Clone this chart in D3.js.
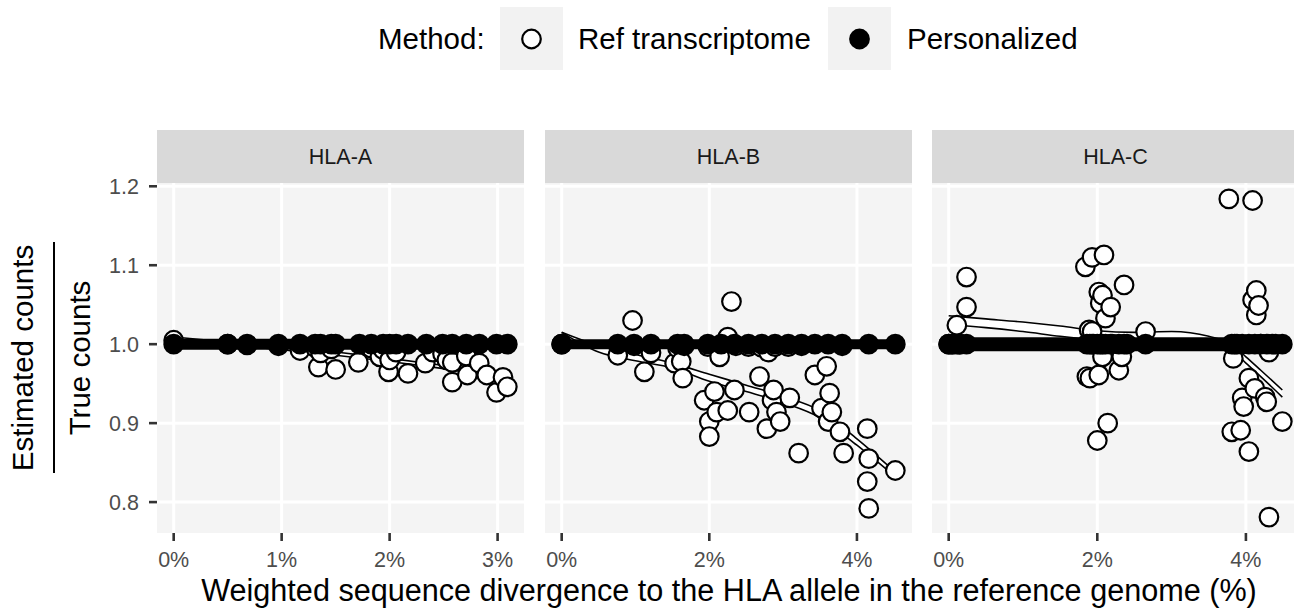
<!DOCTYPE html>
<html>
<head>
<meta charset="utf-8">
<script src="https://cdn.jsdelivr.net/npm/d3@7"></script>
<style>
  body { margin: 0; background: #fff; }
  svg text { font-family: "Liberation Sans", Arial, sans-serif; }
</style>
</head>
<body>
<div id="chart"></div>
<script>
// ---- data (divergence %, estimated / true counts) ----
const genes = ["HLA-A", "HLA-B", "HLA-C"];
const methods = ["Ref transcriptome", "Personalized"];

const refA = [[0.00,1.005],[0.50,1.000],[0.68,0.999],[0.97,0.998],[1.17,0.992],[1.31,0.996],[1.34,0.971],
  [1.36,0.989],[1.46,0.994],[1.50,0.968],[1.71,0.977],[1.83,0.995],[1.91,0.984],[1.94,0.993],[1.99,0.965],
  [2.00,0.980],[2.06,0.990],[2.17,0.963],[2.33,0.976],[2.40,0.990],[2.49,0.988],[2.53,0.980],[2.58,0.977],
  [2.58,0.952],[2.71,0.985],[2.72,0.961],[2.83,0.976],[2.90,0.961],[2.99,0.939],[3.05,0.958],[3.09,0.946]];
const refB = [[0.00,1.000],[0.76,0.986],[0.96,1.030],[0.98,0.998],[1.12,0.965],[1.21,0.989],[1.53,0.976],
  [1.57,0.995],[1.62,0.978],[1.64,0.957],[1.66,0.998],[1.93,0.929],[1.98,0.997],[2.00,0.902],[2.00,0.883],
  [2.07,0.940],[2.10,0.914],[2.14,0.984],[2.25,1.009],[2.25,0.916],[2.30,1.054],[2.34,0.942],[2.36,0.998],
  [2.53,0.997],[2.54,0.914],[2.68,0.959],[2.71,0.996],[2.78,0.893],[2.80,0.990],[2.85,0.929],[2.87,0.942],
  [2.89,0.997],[2.91,0.914],[2.96,0.902],[3.07,0.997],[3.09,0.932],[3.21,0.862],[3.25,0.998],[3.43,0.961],
  [3.52,0.919],[3.59,0.972],[3.61,0.902],[3.63,0.938],[3.66,0.914],[3.77,0.889],[3.80,0.998],[3.82,0.862],
  [4.14,0.893],[4.16,0.855],[4.14,0.826],[4.16,0.792],[4.52,0.840]];
const refC = [[0.00,1.000],[0.05,1.000],[0.11,1.024],[0.15,1.000],[0.24,1.085],[0.24,1.047],[1.84,1.098],
  [1.86,0.959],[1.89,1.018],[1.90,0.957],[1.93,1.110],[1.93,1.016],[1.95,1.000],[2.00,0.878],[2.02,1.066],
  [2.02,0.961],[2.04,1.052],[2.07,1.062],[2.07,0.984],[2.09,1.113],[2.11,1.033],[2.14,0.900],[2.18,1.047],
  [2.20,1.000],[2.29,0.967],[2.33,0.984],[2.36,1.075],[2.40,1.000],[2.65,1.016],[3.77,1.184],[3.81,0.889],
  [3.83,0.982],[3.85,1.000],[3.93,0.891],[3.95,0.932],[3.97,0.921],[4.04,0.957],[4.04,0.864],[4.09,1.182],
  [4.09,1.056],[4.12,0.944],[4.14,1.068],[4.14,1.037],[4.17,1.049],[4.20,1.000],[4.26,0.933],[4.28,0.927],
  [4.31,0.990],[4.31,0.781],[4.40,1.000],[4.49,0.902]];

const persA = [[0.00,1],[0.50,1],[0.68,1],[0.97,1],[1.17,1],[1.31,1],[1.36,1],[1.46,1],[1.50,1],[1.72,1],
  [1.83,1],[1.94,1],[2.00,1],[2.06,1],[2.17,1],[2.34,1],[2.49,1],[2.58,1],[2.71,1],[2.83,1],[2.99,1],[3.09,1]];
const persB = [[0.00,1],[0.76,1],[0.98,1],[1.21,1],[1.57,1],[1.66,1],[1.98,1],[2.16,1],[2.34,1],[2.53,1],
  [2.71,1],[2.89,1],[3.07,1],[3.25,1],[3.43,1],[3.61,1],[3.80,1],[4.16,1],[4.52,1]];
const persC = [[0.00,1],[0.05,1],[0.11,1],[0.15,1],[0.24,1],[1.86,1],[1.90,1],[1.93,1],[2.00,1],[2.04,1],
  [2.07,1],[2.11,1],[2.18,1],[2.29,1],[2.36,1],[2.65,1],[3.81,1],[3.88,1],[3.95,1],[4.04,1],[4.12,1],
  [4.20,1],[4.28,1],[4.36,1],[4.49,1]];

// smooth fits of the ref transcriptome method (upper / lower curve)
const smoothXA  = [0, 0.5, 1, 1.5, 2, 2.5, 3.09];
const smoothHiA = [1.009, 1.003, 0.997, 0.990, 0.982, 0.973, 0.962];
const smoothLoA = [1.004, 0.999, 0.993, 0.986, 0.978, 0.969, 0.957];
const smoothXB  = [0, 0.5, 1, 1.5, 2, 2.5, 3, 3.5, 4, 4.52];
const smoothHiB = [1.015, 0.998, 0.987, 0.976, 0.962, 0.948, 0.934, 0.916, 0.880, 0.838];
const smoothLoB = [1.015, 0.990, 0.979, 0.970, 0.953, 0.940, 0.926, 0.907, 0.872, 0.832];
const smoothXC  = [0, 0.5, 1, 1.5, 2, 2.5, 3, 3.5, 3.8, 4.0, 4.2, 4.49];
const smoothHiC = [1.036, 1.032, 1.028, 1.023, 1.017, 1.015, 1.016, 1.010, 1.000, 0.984, 0.967, 0.942];
const smoothLoC = [1.025, 1.021, 1.016, 1.010, 1.005, 1.001, 1.000, 0.998, 0.993, 0.976, 0.959, 0.933];

const xTicksA = [0, 1, 2, 3];
const xTicksB = [0, 2, 4];
const xTicksC = [0, 2, 4];
const yTicks = [0.8, 0.9, 1.0, 1.1, 1.2];

const facets = [
  { gene: genes[0], ref: refA, pers: persA, sx: smoothXA, hi: smoothHiA, lo: smoothLoA, ticks: xTicksA, band: 11 },
  { gene: genes[1], ref: refB, pers: persB, sx: smoothXB, hi: smoothHiB, lo: smoothLoB, ticks: xTicksB, band: 10 },
  { gene: genes[2], ref: refC, pers: persC, sx: smoothXC, hi: smoothHiC, lo: smoothLoC, ticks: xTicksC, band: 14 }
];

// ---- layout ----
const width = 1294, height = 609;
const panelTop = 183, panelBottom = 533;
const stripTop = 130;
const panelLeft = [157, 545, 932];
const panelWidth = 367;
const ptR = 9.3;

const svg = d3.select("#chart").append("svg")
  .attr("width", width)
  .attr("height", height);

// ggplot-like 5% expansion
function expand(ext) {
  const d = (ext[1] - ext[0]) * 0.05;
  return [ext[0] - d, ext[1] + d];
}

const allY = facets.flatMap(f => f.ref.concat(f.pers).map(d => d[1]));
const y = d3.scaleLinear()
  .domain(expand(d3.extent(allY)))
  .range([panelBottom, panelTop]);

const defs = svg.append("defs");

facets.forEach((f, i) => {
  const left = panelLeft[i];
  const allX = f.ref.concat(f.pers).map(d => d[0]);
  const x = d3.scaleLinear()
    .domain(expand(d3.extent(allX)))
    .range([left, left + panelWidth]);

  const g = svg.append("g");

  // strip
  g.append("rect")
    .attr("x", left).attr("y", stripTop)
    .attr("width", panelWidth).attr("height", panelTop - stripTop)
    .attr("fill", "#D9D9D9");
  g.append("text")
    .attr("x", left + panelWidth / 2).attr("y", 164)
    .attr("text-anchor", "middle")
    .attr("font-size", 21.5)
    .attr("fill", "#1A1A1A")
    .text(f.gene);

  // panel
  g.append("rect")
    .attr("x", left).attr("y", panelTop)
    .attr("width", panelWidth).attr("height", panelBottom - panelTop)
    .attr("fill", "#F4F4F4");

  defs.append("clipPath").attr("id", "clip" + i)
    .append("rect")
    .attr("x", left).attr("y", panelTop)
    .attr("width", panelWidth).attr("height", panelBottom - panelTop);

  const inner = g.append("g").attr("clip-path", `url(#clip${i})`);

  // grid
  inner.selectAll(".gy").data(yTicks).join("line")
    .attr("x1", left).attr("x2", left + panelWidth)
    .attr("y1", d => y(d)).attr("y2", d => y(d))
    .attr("stroke", "#fff").attr("stroke-width", 3);
  inner.selectAll(".gx").data(f.ticks).join("line")
    .attr("x1", d => x(d)).attr("x2", d => x(d))
    .attr("y1", panelTop).attr("y2", panelBottom)
    .attr("stroke", "#fff").attr("stroke-width", 3);

  // ref smooth ribbon
  const sm = f.sx.map((v, k) => ({ x: v, hi: f.hi[k], lo: f.lo[k] }));
  inner.append("path")
    .datum(sm)
    .attr("d", d3.area().curve(d3.curveMonotoneX)
      .x(d => x(d.x)).y0(d => y(d.lo)).y1(d => y(d.hi)))
    .attr("fill", "#fff");
  ["hi", "lo"].forEach(k => {
    inner.append("path")
      .datum(sm)
      .attr("d", d3.line().curve(d3.curveMonotoneX).x(d => x(d.x)).y(d => y(d[k])))
      .attr("fill", "none")
      .attr("stroke", "#000")
      .attr("stroke-width", 1.6);
  });

  // ref points
  inner.selectAll(".ref").data(f.ref).join("circle")
    .attr("cx", d => x(d[0])).attr("cy", d => y(d[1]))
    .attr("r", ptR)
    .attr("fill", "#fff")
    .attr("stroke", "#000")
    .attr("stroke-width", 2.2);

  // personalized smooth (flat at 1) and points
  inner.append("path")
    .datum(f.pers)
    .attr("d", d3.line().x(d => x(d[0])).y(d => y(d[1])))
    .attr("fill", "none")
    .attr("stroke", "#000")
    .attr("stroke-width", f.band);
  inner.selectAll(".pers").data(f.pers).join("circle")
    .attr("cx", d => x(d[0])).attr("cy", d => y(d[1]))
    .attr("r", ptR)
    .attr("fill", "#000")
    .attr("stroke", "#000")
    .attr("stroke-width", 2.2);

  // x axis
  const xa = g.append("g");
  xa.selectAll("line").data(f.ticks).join("line")
    .attr("x1", d => x(d)).attr("x2", d => x(d))
    .attr("y1", panelBottom).attr("y2", panelBottom + 8)
    .attr("stroke", "#333").attr("stroke-width", 2.6);
  xa.selectAll("text").data(f.ticks).join("text")
    .attr("x", d => x(d)).attr("y", 567)
    .attr("text-anchor", "middle")
    .attr("font-size", 21.5)
    .attr("fill", "#4D4D4D")
    .text(d => d + "%");

  // y axis on the first panel only
  if (i === 0) {
    const ya = g.append("g");
    ya.selectAll("line").data(yTicks).join("line")
      .attr("x1", left - 8).attr("x2", left)
      .attr("y1", d => y(d)).attr("y2", d => y(d))
      .attr("stroke", "#333").attr("stroke-width", 2.6);
    ya.selectAll("text").data(yTicks).join("text")
      .attr("x", left - 18).attr("y", d => y(d) + 7.8)
      .attr("text-anchor", "end")
      .attr("font-size", 21.5)
      .attr("fill", "#4D4D4D")
      .text(d => d3.format(".1f")(d));
  }
});

// x axis title
svg.append("text")
  .attr("x", 729).attr("y", 601)
  .attr("text-anchor", "middle")
  .attr("font-size", 30.6)
  .attr("fill", "#000")
  .text("Weighted sequence divergence to the HLA allele in the reference genome (%)");

// y axis title as a fraction
const yMid = (panelTop + panelBottom) / 2;
svg.append("text")
  .attr("transform", `translate(33,${yMid}) rotate(-90)`)
  .attr("text-anchor", "middle")
  .attr("font-size", 29.5)
  .text("Estimated counts");
svg.append("text")
  .attr("transform", `translate(90,${yMid}) rotate(-90)`)
  .attr("text-anchor", "middle")
  .attr("font-size", 29.5)
  .text("True counts");
svg.append("line")
  .attr("x1", 54).attr("x2", 54)
  .attr("y1", 242).attr("y2", 473)
  .attr("stroke", "#000").attr("stroke-width", 2);

// legend
const legend = svg.append("g");
legend.append("text")
  .attr("x", 378).attr("y", 49)
  .attr("font-size", 29.5)
  .text("Method:");
const keyX = [500, 828];
const labelX = [578, 907];
methods.forEach((m, k) => {
  legend.append("rect")
    .attr("x", keyX[k]).attr("y", 7)
    .attr("width", 63).attr("height", 63)
    .attr("fill", "#F2F2F2");
  legend.append("circle")
    .attr("cx", keyX[k] + 31.5).attr("cy", 39)
    .attr("r", ptR)
    .attr("fill", k === 0 ? "#fff" : "#000")
    .attr("stroke", "#000")
    .attr("stroke-width", 2.2);
  legend.append("text")
    .attr("x", labelX[k]).attr("y", 49)
    .attr("font-size", 29.5)
    .text(m);
});
</script>
</body>
</html>
